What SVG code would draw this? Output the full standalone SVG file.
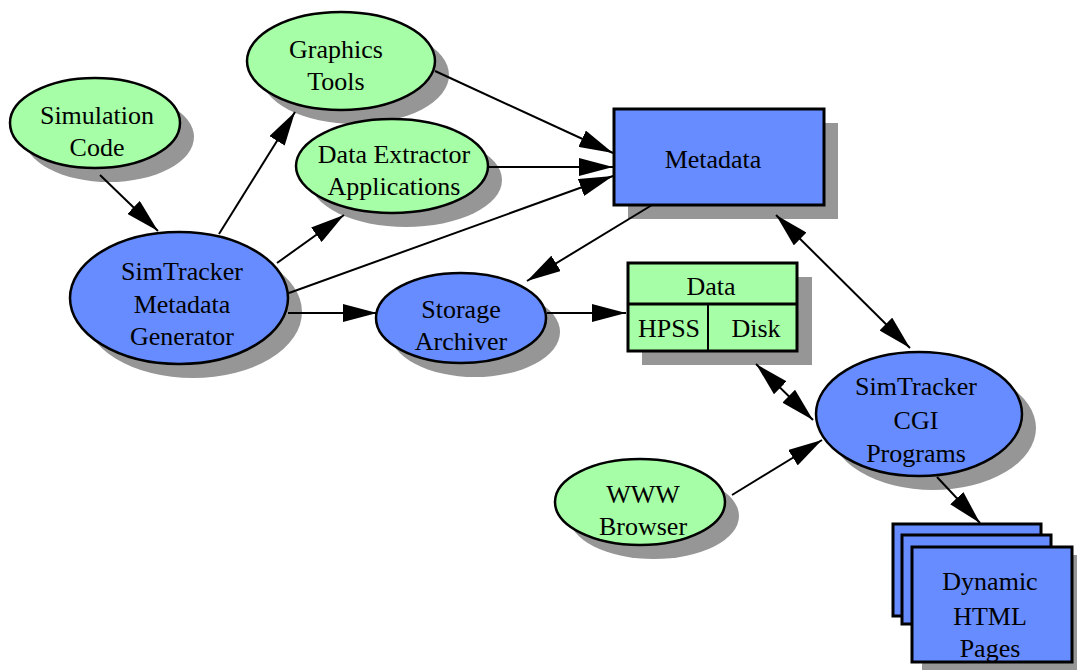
<svg xmlns="http://www.w3.org/2000/svg" width="1077" height="671" viewBox="0 0 1077 671">
<style>
.sh{fill:#969696;stroke:none}
.g{fill:#a6ffa6;stroke:#000;stroke-width:2.5}
.b{fill:#668cff;stroke:#000;stroke-width:2.5}
.r{stroke-width:3}
text{font-family:"Liberation Serif","Times New Roman",serif;font-size:26px;fill:#000;text-anchor:middle}
.e{stroke:#000;stroke-width:2;fill:none;marker-end:url(#ah)}
.d{marker-start:url(#ah)}
</style>
<defs>
<marker id="ah" markerUnits="userSpaceOnUse" markerWidth="34" markerHeight="18" refX="34" refY="9" orient="auto-start-reverse" viewBox="0 0 34 18">
<path d="M0,0 L34,9 L0,18 Z" fill="#000"/>
</marker>
</defs>
<rect width="1077" height="671" fill="#fff"/>
<g id="simulation-code">
<ellipse class="sh" cx="109" cy="137" rx="85" ry="45"/>
<ellipse class="g" cx="95" cy="123" rx="85" ry="45"/>
<text x="97" y="124">Simulation</text>
<text x="97" y="156">Code</text>
</g>
<g id="graphics-tools">
<ellipse class="sh" cx="355" cy="75" rx="94" ry="49"/>
<ellipse class="g" cx="341" cy="61" rx="94" ry="49"/>
<text x="336" y="58">Graphics</text>
<text x="336" y="90">Tools</text>
</g>
<g id="data-extractor">
<ellipse class="sh" cx="406" cy="180" rx="96" ry="47"/>
<ellipse class="g" cx="392" cy="166" rx="96" ry="47"/>
<text x="394" y="163">Data Extractor</text>
<text x="394" y="195">Applications</text>
</g>
<g id="metadata-generator">
<ellipse class="sh" cx="193" cy="312" rx="109" ry="66"/>
<ellipse class="b" cx="179" cy="298" rx="109" ry="66"/>
<text x="182" y="280">SimTracker</text>
<text x="182" y="313">Metadata</text>
<text x="182" y="345">Generator</text>
</g>
<g id="storage-archiver">
<ellipse class="sh" cx="475" cy="332" rx="85" ry="45"/>
<ellipse class="b" cx="461" cy="318" rx="85" ry="45"/>
<text x="461" y="318">Storage</text>
<text x="461" y="350">Archiver</text>
</g>
<g id="metadata">
<rect class="sh" x="628" y="123" width="210" height="96"/>
<rect class="b r" x="614" y="109" width="210" height="96"/>
<text x="713" y="168">Metadata</text>
</g>
<g id="data">
<rect class="sh" x="642" y="277" width="170" height="88"/>
<rect class="g r" x="628" y="263" width="169" height="88"/>
<line x1="628" y1="304" x2="797" y2="304" stroke="#000" stroke-width="3"/>
<line x1="708" y1="304" x2="708" y2="351" stroke="#000" stroke-width="2"/>
<text x="711" y="295">Data</text>
<text x="669" y="337">HPSS</text>
<text x="756" y="337">Disk</text>
</g>
<g id="cgi-programs">
<ellipse class="sh" cx="933" cy="428" rx="103" ry="62"/>
<ellipse class="b" cx="919" cy="414" rx="103" ry="62"/>
<text x="916" y="395">SimTracker</text>
<text x="916" y="429">CGI</text>
<text x="916" y="462">Programs</text>
</g>
<g id="www-browser">
<ellipse class="sh" cx="654" cy="516" rx="85" ry="43"/>
<ellipse class="g" cx="640" cy="502" rx="85" ry="43"/>
<text x="643" y="503">WWW</text>
<text x="643" y="535">Browser</text>
</g>
<g id="html-pages">
<rect class="sh" x="922" y="555" width="160" height="115"/>
<rect class="b r" x="893" y="524" width="148" height="92"/>
<rect class="b r" x="902" y="535" width="149" height="89"/>
<rect class="b r" x="912" y="547" width="160" height="115"/>
<text x="990" y="590">Dynamic</text>
<text x="990" y="625">HTML</text>
<text x="990" y="657">Pages</text>
</g>
<g id="connectors">
<line class="e" x1="100" y1="175" x2="158" y2="231"/>
<line class="e" x1="219" y1="234" x2="295" y2="112"/>
<line class="e" x1="277" y1="263" x2="344" y2="215"/>
<line class="e" x1="289" y1="293" x2="613" y2="176"/>
<line class="e" x1="435" y1="71" x2="613" y2="153"/>
<line class="e" x1="488" y1="167" x2="613" y2="167"/>
<line class="e" x1="652" y1="205" x2="527" y2="281"/>
<line class="e" x1="288" y1="313" x2="377" y2="313"/>
<line class="e" x1="547" y1="313" x2="626" y2="313"/>
<line class="e d" x1="776" y1="215" x2="910" y2="348"/>
<line class="e d" x1="756" y1="364" x2="813" y2="420"/>
<line class="e" x1="732" y1="495" x2="822" y2="440"/>
<line class="e" x1="937" y1="477" x2="980" y2="523"/>
</g>
</svg>
